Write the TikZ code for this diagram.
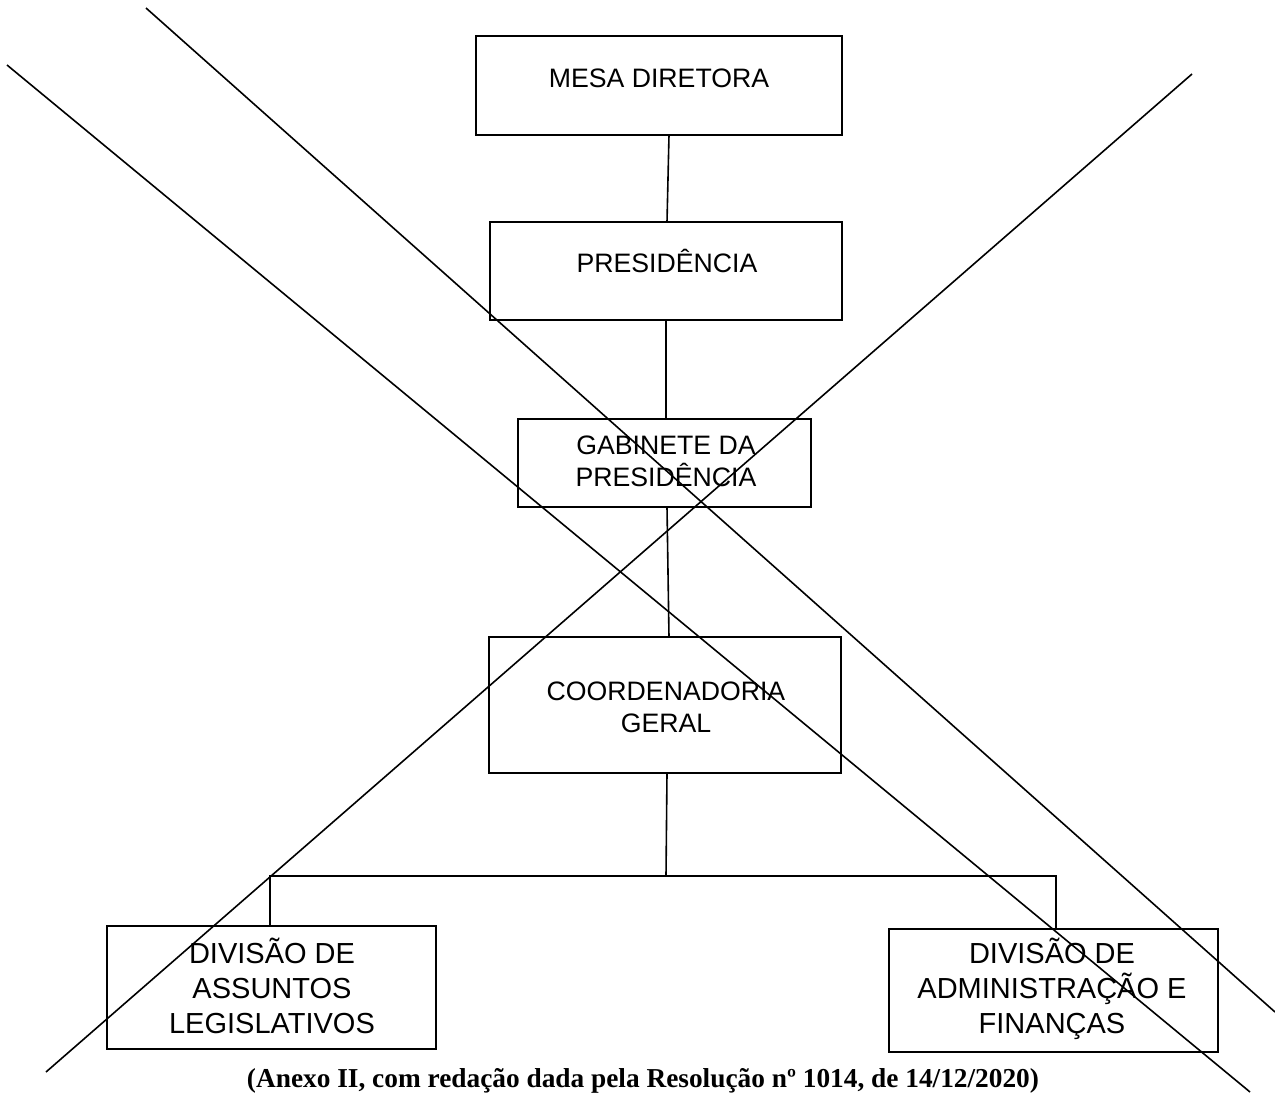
\documentclass[tikz,border=0pt]{standalone}
\usepackage{fontspec}
\setmainfont{Liberation Sans}
\newfontfamily\capfont{Liberation Serif}
\begin{document}
\begin{tikzpicture}[x=0.75pt,y=-0.75pt,
  box/.style={draw,line width=1.9*0.75pt,inner sep=0pt,outer sep=0pt},
  txt/.style={inner sep=0pt,outer sep=0pt,align=center,anchor=base,font=\fontsize{20pt}{23.6pt}\selectfont},
  btxt/.style={inner sep=0pt,outer sep=0pt,align=center,anchor=base,font=\fontsize{21.75pt}{25.9pt}\selectfont},
  conn/.style={line width=1.6*0.75pt},
  cross/.style={line width=1.6*0.75pt}]
\useasboundingbox (0,0) rectangle (1275,1093);
% boxes
\node[box,minimum width=366*0.75pt,minimum height=99*0.75pt] (mesa) at (659,85.5) {};
\node[box,minimum width=352*0.75pt,minimum height=98*0.75pt] (pres) at (666,271) {};
\node[box,minimum width=293*0.75pt,minimum height=88*0.75pt] (gab) at (664.5,463) {};
\node[box,minimum width=352*0.75pt,minimum height=136*0.75pt] (coord) at (665,705) {};
\node[box,minimum width=329*0.75pt,minimum height=123*0.75pt] (la) at (271.5,987.5) {};
\node[box,minimum width=329*0.75pt,minimum height=123*0.75pt] (ra) at (1053.5,990.5) {};
% texts (multi-line nodes: base = last line baseline)
\node[txt] (mesat) at (659,87) {MESA DIRETORA};
\node[txt] (prest) at (667,272) {PRESIDÊNCIA};
\node[txt] (gabt) at (666,486) {GABINETE DA\\PRESIDÊNCIA};
\node[txt] (coordt) at (666,732) {COORDENADORIA\\GERAL};
\node[btxt] (lat) at (272,1033) {DIVISÃO DE\\ASSUNTOS\\LEGISLATIVOS};
\node[btxt] (rat) at (1052,1033) {DIVISÃO DE\\ADMINISTRAÇÃO E\\FINANÇAS};
\node[inner sep=0pt,anchor=base,font=\capfont\bfseries\fontsize{20.5pt}{24pt}\selectfont] (cap) at (643,1087) {(Anexo II, com redação dada pela Resolução nº 1014, de 14/12/2020)};
% connectors
\coordinate (jc) at (666,876);
\coordinate (jl) at (270,876);
\coordinate (jr) at (1056,876);
\draw[conn] ([xshift=10*0.75pt]mesa.south) -- ([xshift=1*0.75pt]pres.north);
\draw[conn] (pres.south) -- ([xshift=1.5*0.75pt]gab.north);
\draw[conn] ([xshift=2.5*0.75pt]gab.south) -- ([xshift=4*0.75pt]coord.north);
\draw[conn] ([xshift=2*0.75pt]coord.south) -- (jc);
\draw[conn] ([xshift=-1.5*0.75pt]la.north) -- (jl) -- (jr) -- ([xshift=2.5*0.75pt]ra.north);
% cross-out lines
\draw[cross] (7,65) -- (1250,1092);
\draw[cross] (146,8) -- (1275,1012);
\draw[cross] (1192,74) -- (46,1072);
\end{tikzpicture}
\end{document}
